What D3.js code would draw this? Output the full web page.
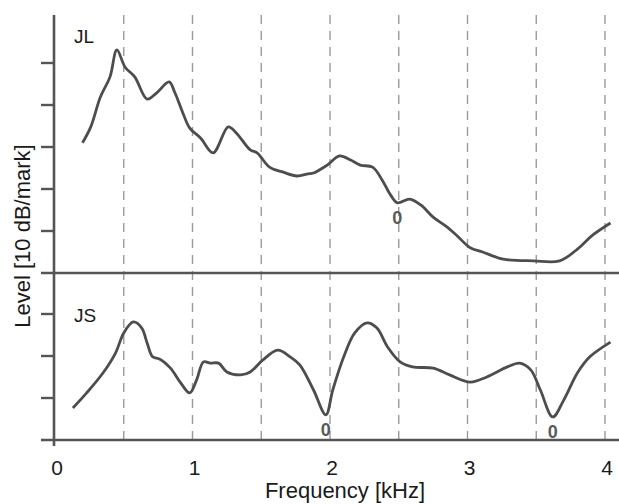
<!DOCTYPE html>
<html>
<head>
<meta charset="utf-8">
<script src="https://d3js.org/d3.v7.min.js"></script>
<style>
    body { margin: 0; background: #fff; }
    text { font-family: "Liberation Sans", Arial, sans-serif; fill: #1a1a1a; }
</style>
</head>
<body>
<script>

// frequency in kHz, level in dB (relative, 10 dB per mark)
const jlFreq = [0.20, 0.26, 0.33, 0.40, 0.45, 0.51, 0.58, 0.67, 0.74, 0.83, 0.87, 0.93,
                0.98, 1.06, 1.15, 1.26, 1.32, 1.42, 1.47, 1.56, 1.66, 1.76, 1.84, 1.88,
                1.98, 2.07, 2.15, 2.22, 2.31, 2.38, 2.44, 2.49, 2.58, 2.66, 2.75, 2.85,
                2.92, 3.02, 3.11, 3.26, 3.48, 3.67, 3.80, 3.91, 4.04];
const jlLevel = [31.0, 34.8, 41.9, 46.7, 53.1, 49.0, 46.7, 41.4, 42.9, 45.5, 43.1, 38.1,
                 34.5, 32.1, 28.6, 34.8, 33.3, 29.3, 28.6, 25.2, 24.0, 23.1, 23.6, 23.8,
                 25.7, 27.9, 26.9, 25.7, 25.2, 22.1, 18.6, 16.7, 17.6, 16.2, 13.3, 11.0,
                 9.0, 6.0, 5.0, 3.3, 2.9, 2.9, 5.7, 9.0, 11.9];

const jsFreq = [0.13, 0.23, 0.35, 0.44, 0.50, 0.57, 0.63, 0.67, 0.71, 0.76, 0.84, 0.91,
                0.98, 1.03, 1.08, 1.13, 1.19, 1.25, 1.35, 1.42, 1.51, 1.62, 1.71, 1.78,
                1.88, 1.97, 2.02, 2.10, 2.18, 2.27, 2.34, 2.42, 2.51, 2.60, 2.75, 2.87,
                3.02, 3.14, 3.29, 3.38, 3.46, 3.53, 3.62, 3.70, 3.80, 3.89, 4.04];
const jsLevel = [7.6, 11.2, 16.0, 20.7, 25.5, 28.1, 26.7, 23.1, 19.8, 19.3, 17.1, 13.8,
                 11.2, 14.3, 18.6, 18.3, 18.3, 16.2, 15.5, 16.2, 19.0, 21.4, 19.8, 17.9,
                 11.9, 6.0, 11.9, 19.8, 25.5, 27.9, 26.7, 22.1, 18.6, 17.4, 17.1, 15.5,
                 13.8, 15.0, 17.4, 18.3, 16.7, 11.9, 5.5, 9.5, 16.0, 19.8, 23.3];

// zeros (notches) marked with "0"
const jlZeros = [2.49];
const jsZeros = [1.97, 3.62];

const xTicks = [0, 1, 2, 3, 4];
const gridLines = [0.5, 1, 1.5, 2, 2.5, 3, 3.5, 4];
const jlMarks = [10, 20, 30, 40, 50];
const jsMarks = [10, 20, 30];

window.onload = function() {
    makeChart();
};


/** Draws both spectra panels. */
function makeChart() {

    const w = 619;
    const h = 504;
    const ink = "#555";

    let xScale = d3.scaleLinear()
                   .domain([0, 4])
                   .range([55, 605]);

    // upper panel (JL) and lower panel (JS), 4.2 px per dB
    let yTop = d3.scaleLinear()
                 .domain([0, 60])
                 .range([273, 21]);

    let yBot = d3.scaleLinear()
                 .domain([0, 40])
                 .range([440, 272]);

    let svg = d3.select("body")
                .append("svg")
                .attr("width", w)
                .attr("height", h);

    // dashed vertical grid lines
    svg.selectAll(".grid")
       .data(gridLines)
       .enter()
       .append("line")
       .attr("class", "grid")
       .attr("x1", function(d) {return xScale(d)})
       .attr("x2", function(d) {return xScale(d)})
       .attr("y1", 15)
       .attr("y2", 447)
       .attr("stroke", "#9a9a9a")
       .attr("stroke-width", 1.4)
       .attr("stroke-dasharray", "9,7");

    // panel separator and bottom line
    svg.selectAll(".hline")
       .data([yTop(0), yBot(0)])
       .enter()
       .append("line")
       .attr("class", "hline")
       .attr("x1", 41)
       .attr("x2", w)
       .attr("y1", function(d) {return d})
       .attr("y2", function(d) {return d})
       .attr("stroke", ink)
       .attr("stroke-width", 2.6);

    // left axis with outward tick marks
    svg.append("line")
       .attr("x1", xScale(0) - 1)
       .attr("x2", xScale(0) - 1)
       .attr("y1", 15)
       .attr("y2", 446)
       .attr("stroke", ink)
       .attr("stroke-width", 2.6);

    let marks = jlMarks.map(function(d) {return yTop(d)})
                       .concat(jsMarks.map(function(d) {return yBot(d)}));

    svg.selectAll(".ytick")
       .data(marks)
       .enter()
       .append("line")
       .attr("class", "ytick")
       .attr("x1", 41)
       .attr("x2", xScale(0))
       .attr("y1", function(d) {return d})
       .attr("y2", function(d) {return d})
       .attr("stroke", ink)
       .attr("stroke-width", 2.4);

    // x tick labels
    svg.selectAll(".xlabel")
       .data(xTicks)
       .enter()
       .append("text")
       .attr("class", "xlabel")
       .attr("x", function(d) {return xScale(d) + 2})
       .attr("y", 475)
       .style("text-anchor", "middle")
       .style("font-size", "21px")
       .text(function(d) {return d});

    // axis titles
    svg.append("text")
       .attr("x", 345)
       .attr("y", 498)
       .style("text-anchor", "middle")
       .style("font-size", "22px")
       .text("Frequency [kHz]");

    svg.append("text")
       .attr("transform", "translate(30,236) rotate(-90)")
       .style("text-anchor", "middle")
       .style("font-size", "22px")
       .text("Level [10 dB/mark]");

    // draw one spectrum with its notch labels
    function drawSpectrum(freq, level, zeros, yScale, name, nameY) {

        let points = freq.map(function(f, i) {return [f, level[i]]});

        let line = d3.line()
                     .x(function(d) {return xScale(d[0])})
                     .y(function(d) {return yScale(d[1])})
                     .curve(d3.curveCatmullRom.alpha(0.5));

        svg.append("path")
           .datum(points)
           .attr("d", line)
           .attr("fill", "none")
           .attr("stroke", "#4d4d4d")
           .attr("stroke-width", 2.8)
           .attr("stroke-linejoin", "round");

        svg.selectAll(".zero-" + name)
           .data(zeros)
           .enter()
           .append("text")
           .attr("class", "zero-" + name)
           .attr("x", function(d) {return xScale(d)})
           .attr("y", function(d) {
                let i = d3.minIndex(freq, function(f) {return Math.abs(f - d)});
                return yScale(level[i]) + 21;
           })
           .style("text-anchor", "middle")
           .style("font-size", "18px")
           .style("font-weight", "bold")
           .style("fill", "#5a5a5a")
           .text("0");

        svg.append("text")
           .attr("x", 74)
           .attr("y", nameY)
           .style("font-size", "19px")
           .text(name);
    }

    drawSpectrum(jlFreq, jlLevel, jlZeros, yTop, "JL", 43);
    drawSpectrum(jsFreq, jsLevel, jsZeros, yBot, "JS", 322);
}
</script>
</body>
</html>
